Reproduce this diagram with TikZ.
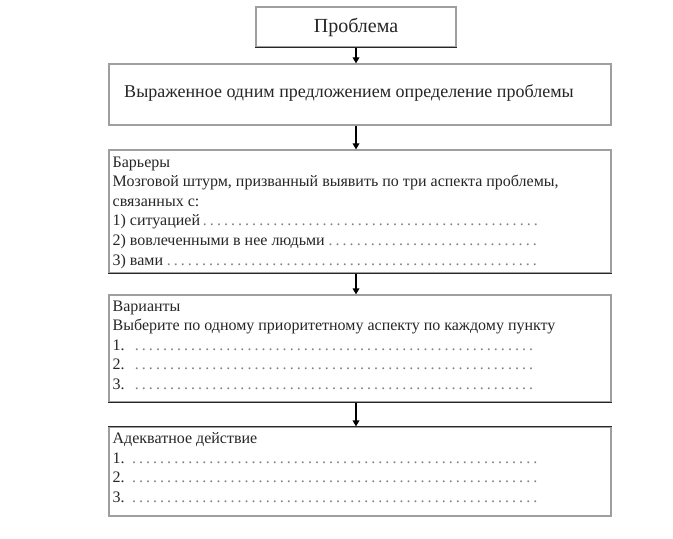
\documentclass[tikz,border=0pt]{standalone}
\usepackage{fontspec}
\setmainfont{Liberation Serif}
\usetikzlibrary{arrows.meta,positioning,calc}

\newcommand{\dotrow}[2][321pt]{\makebox[#1][l]{#2\textcolor{gray}{\dotfill}}}

\begin{document}
\begin{tikzpicture}[x=0.75pt,y=-0.75pt,
  box/.style={draw=gray!75,line width=0.9pt,fill=white,inner sep=0pt},
  txt/.style={anchor=north west,inner sep=0pt,align=left,font=\fontsize{12}{14.7}\selectfont,text=black!85},
  arr/.style={line width=0.9pt,-{Triangle[length=4.5pt,width=5pt]}},
  edge/.style={line width=1.1pt,black!85}]
  \fill[white] (0,0) rectangle (673,538);
  \useasboundingbox (0,0) rectangle (673,538);

  % блоки схемы
  \node[box,minimum width=150pt,minimum height=30pt] (b1) at (356,27) {};
  \node[box,minimum width=376.5pt,minimum height=45.75pt] (b2) at (360,94.5) {};
  \node[box,minimum width=376.5pt,minimum height=92.25pt] (b3) at (360,211.5) {};
  \node[box,minimum width=376.5pt,minimum height=80.25pt] (b4) at (360,348.5) {};
  \node[box,minimum width=376.5pt,minimum height=66.75pt] (b5) at (360,471.5) {};

  % тёмные края
  \draw[edge] (b1.south west) -- (b1.south east);
  \draw[edge] (b3.south west) -- (b3.south east);
  \draw[edge] (b4.south west) -- (b4.south east);
  \draw[edge] (b5.north west) -- (b5.north east);

  % тексты
  \node[txt,anchor=center] (t1) at (b1) {\fontsize{15}{17}\selectfont Проблема};
  \node[txt,anchor=center] (t2) at (349,93) {\fontsize{13.5}{16}\selectfont Выраженное одним предложением определение проблемы};
  \node[txt] (t3) at ($(b3.north west)+(4,7)$) {Барьеры\\
    Мозговой штурм, призванный выявить по три аспекта проблемы,\\
    связанных с:\\
    \dotrow{1) ситуацией}\\
    \dotrow{2) вовлеченными в нее людьми}\\
    \dotrow{3) вами}};
  \node[txt] (t4) at ($(b4.north west)+(4,6)$) {Варианты\\
    Выберите по одному приоритетному аспекту по каждому пункту\\
    \dotrow[319pt]{1. }\\
    \dotrow[319pt]{2. }\\
    \dotrow[319pt]{3. }};
  \node[txt] (t5) at ($(b5.north west)+(4,6)$) {Адекватное действие\\
    \dotrow[320pt]{1. }\\
    \dotrow[320pt]{2. }\\
    \dotrow[320pt]{3. }};

  % стрелки
  \draw[arr] (b1.south) -- (b1.south |- b2.north);
  \draw[arr] (b2.south -| b1.south) -- (b3.north -| b1.south);
  \draw[arr] (b3.south -| b1.south) -- (b4.north -| b1.south);
  \draw[arr] (b4.south -| b1.south) -- (b5.north -| b1.south);
\end{tikzpicture}
\end{document}
